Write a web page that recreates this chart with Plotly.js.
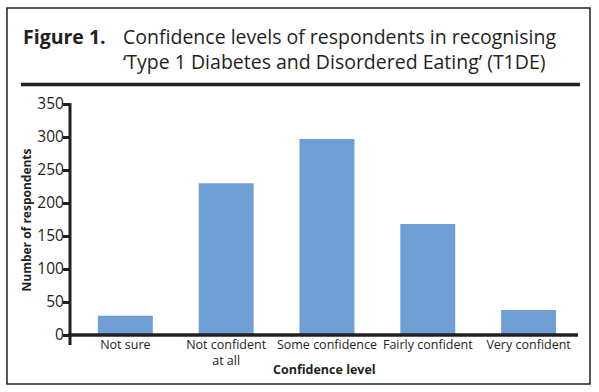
<!DOCTYPE html>
<html>
<head>
<meta charset="utf-8">
<script src="https://cdn.plot.ly/plotly-3.0.1.min.js"></script>
<style>html,body{margin:0;padding:0;background:#fff;}#chart{width:599px;height:392px;}</style>
</head>
<body>
<div id="chart"></div>
<script>
const categories = ["Not sure", "Not confident at all", "Some confidence", "Fairly confident", "Very confident"];
const tickLabels = ["Not sure", "Not confident<br>at all", "Some confidence", "Fairly confident", "Very confident"];
const respondents = [29, 230, 297, 168, 38];
const yTicks = [0, 50, 100, 150, 200, 250, 300, 350];

const dark = "#231f20";
const font = "Open Sans, Noto Sans, sans-serif";

const trace = {
  type: "bar",
  x: categories,
  y: respondents,
  width: 0.545,
  marker: {color: "#709fd5"},
  hoverinfo: "x+y"
};

const layout = {
  width: 599, height: 392,
  margin: {l: 70, r: 20, t: 104, b: 57, pad: 0},
  paper_bgcolor: "#fff", plot_bgcolor: "#fff",
  showlegend: false,
  font: {family: font, color: dark},
  xaxis: {
    type: "category",
    range: [-0.549, 4.5],
    tickvals: categories,
    ticktext: tickLabels,
    showline: false, showgrid: false, zeroline: false,
    ticks: "",
    tickfont: {size: 12.5, color: dark}
  },
  yaxis: {
    range: [0, 350],
    tickvals: yTicks,
    showline: false, showgrid: false, zeroline: false,
    ticks: "outside", ticklen: 6, tickwidth: 3, tickcolor: dark,
    ticklabelstandoff: -4,
    tickfont: {size: 15.5, color: dark}
  },
  shapes: [
    {type: "rect", xref: "paper", yref: "paper", x0: -0.1238, x1: 1.0216, y0: -0.2121, y1: 1.4156,
     line: {color: dark, width: 1.5}, fillcolor: "rgba(0,0,0,0)", layer: "below"},
    {type: "line", xref: "paper", yref: "paper", x0: -0.0963, x1: 1.002, y0: 1.0844, y1: 1.0844,
     line: {color: dark, width: 3.5}},
    {type: "line", xref: "paper", yref: "paper", x0: 0, x1: 0, y0: -0.0433, y1: 1.004,
     line: {color: dark, width: 3}},
    {type: "line", xref: "paper", yref: "paper", x0: -0.004, x1: 0.998, y0: 0, y1: 0,
     line: {color: dark, width: 3.5}}
  ],
  annotations: [
    {xref: "paper", yref: "paper", x: -0.0963, y: 1.238, xanchor: "left", yanchor: "middle",
     text: "<b>Figure 1.</b><br> ", showarrow: false, align: "left",
     font: {size: 19.5, color: dark, family: font}},
    {xref: "paper", yref: "paper", x: 0.1, y: 1.238, xanchor: "left", yanchor: "middle",
     text: "Confidence levels of respondents in recognising<br>\u2018Type 1 Diabetes and Disordered Eating\u2019 (T1DE)",
     showarrow: false, align: "left",
     font: {size: 19.5, color: dark, family: font}},
    {xref: "paper", yref: "paper", x: 0.5, y: -0.1515, xanchor: "center", yanchor: "middle",
     text: "<b>Confidence level</b>", showarrow: false,
     font: {size: 12.5, color: dark, family: font}},
    {xref: "paper", yref: "paper", x: -0.0845, y: 0.5, xanchor: "center", yanchor: "middle",
     text: "<b>Number of respondents</b>", showarrow: false, textangle: -90,
     font: {size: 12, color: dark, family: font}}
  ]
};

Plotly.newPlot("chart", [trace], layout, {displayModeBar: false, staticPlot: true});
</script>
</body>
</html>
